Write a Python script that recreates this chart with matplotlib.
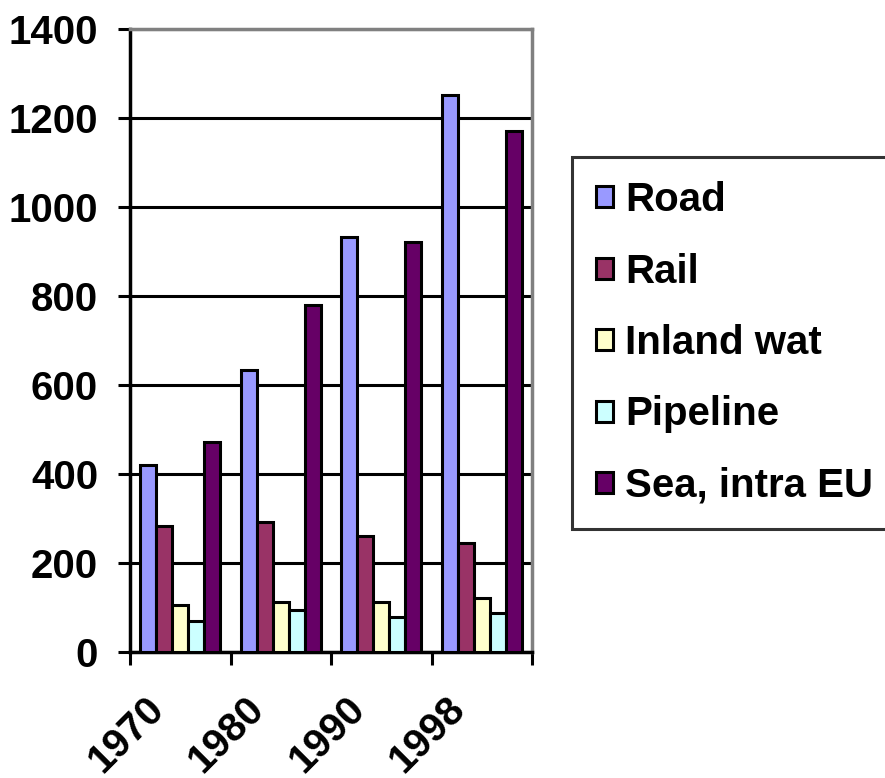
import numpy as np
import matplotlib
matplotlib.use('Agg')
import matplotlib.pyplot as plt
from matplotlib.transforms import ScaledTranslation

years = ['1970', '1980', '1990', '1998']
modes = ['Road', 'Rail', 'Inland wat', 'Pipeline', 'Sea, intra EU']
road = [420, 634, 932, 1252]
rail = [284, 292, 260, 244]
inland = [105, 113, 113, 122]
pipeline = [70, 95, 78, 88]
sea = [472, 779, 922, 1170]
colors = ['#9999FF', '#993366', '#FFFFCC', '#CCFFFF', '#660066']

plt.rcParams['font.family'] = ['Liberation Sans', 'DejaVu Sans']
plt.rcParams['font.weight'] = 'bold'

fig = plt.figure(figsize=(8.85, 7.78), dpi=100)
ax = fig.add_axes([130 / 885, 126 / 778, 402 / 885, 623 / 778])

x = np.arange(len(years))
w = 0.16
series = [road, rail, inland, pipeline, sea]
for i, (vals, name, c) in enumerate(zip(series, modes, colors)):
    ax.bar(x + (i - 2) * w, vals, w, color=c, edgecolor='black',
           linewidth=2.2, label=name, zorder=3)

ax.set_xlim(-0.5, 3.5)
ax.set_ylim(0, 1400)
ax.set_yticks(range(0, 1401, 200))
ax.yaxis.grid(True, color='black', linewidth=2.2, zorder=1)
ax.tick_params(axis='y', length=9, width=2.2, labelsize=29, pad=14)

# boundary ticks, labels sit on minor ticks at the group centres
ax.set_xticks(np.arange(-0.5, 4, 1))
ax.set_xticklabels([])
ax.tick_params(axis='x', which='major', length=9, width=2.2)
ax.set_xticks(x, minor=True)
ax.set_xticklabels(years, minor=True, rotation=45, ha='right', va='top',
                   rotation_mode='anchor', fontsize=29)
ax.tick_params(axis='x', which='minor', length=0, pad=27)
shift = ScaledTranslation(-36 / 100, 0, fig.dpi_scale_trans)
for lbl in ax.get_xticklabels(minor=True):
    lbl.set_transform(lbl.get_transform() + shift)

for side in ['left', 'bottom']:
    ax.spines[side].set_linewidth(2.5)
    ax.spines[side].set_color('black')
for side in ['top', 'right']:
    ax.spines[side].set_linewidth(2.5)
    ax.spines[side].set_color('#808080')

leg = fig.legend(loc='upper left', bbox_to_anchor=(572 / 885, 1 - 157 / 778),
                 fontsize=29, frameon=True, fancybox=False, handlelength=0.42,
                 handleheight=0.42, handletextpad=0.3, labelspacing=0.83,
                 borderpad=0.6, borderaxespad=0)
leg.get_frame().set_edgecolor('black')
leg.get_frame().set_linewidth(2.2)
for h in leg.legend_handles:
    h.set_linewidth(2.2)

fig.savefig('out.png', dpi=100)
